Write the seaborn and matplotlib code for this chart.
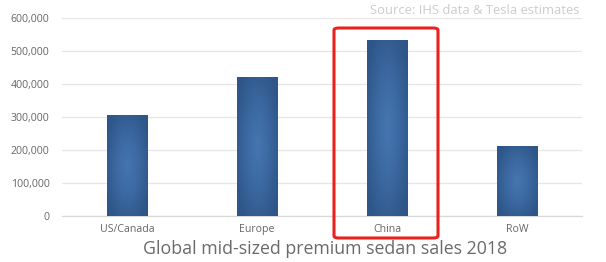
import numpy as np
import pandas as pd
import matplotlib
matplotlib.use("Agg")
import matplotlib.pyplot as plt
import seaborn as sns
from matplotlib.patches import FancyBboxPatch
from matplotlib.colors import LinearSegmentedColormap

regions = ["US/Canada", "Europe", "China", "RoW"]
sales = [306000, 421000, 533000, 212000]
yticks = [0, 100000, 200000, 300000, 400000, 500000, 600000]
title = "Global mid-sized premium sedan sales 2018"
source = "Source: IHS data & Tesla estimates"

sns.set_theme(style="white")
plt.rcParams['font.family'] = ['Open Sans', 'DejaVu Sans']

fig = plt.figure(figsize=(6.06, 2.62), dpi=100)
ax = fig.add_axes([62/606, 46/262, 520/606, 198/262])

df = pd.DataFrame({"region": regions, "sales": sales})
sns.barplot(data=df, x="region", y="sales", color="#35619a", width=0.31, ax=ax, zorder=3)

cmap = LinearSegmentedColormap.from_list("g", ["#4676b0", "#3b68a0", "#2e5688"])
for p in ax.patches:
    x0, y0 = p.get_x(), p.get_y()
    w, h = p.get_width(), p.get_height()
    nx, ny = 60, 200
    xx = np.linspace(-1, 1, nx)
    yy = np.linspace(-1, 1, ny)
    X, Y = np.meshgrid(xx, yy)
    R = np.sqrt((X * 0.85) ** 2 + (Y * 0.8) ** 2)
    R = np.clip(R, 0, 1)
    im = ax.imshow(R, cmap=cmap, vmin=0, vmax=1, extent=[x0, x0 + w, y0, y0 + h],
                   aspect="auto", origin="lower", zorder=4, interpolation="bilinear")
    im.set_clip_path(p)
    p.set_edgecolor("#c8d4e4")
    p.set_linewidth(0.6)

ax.set_xlim(-0.5, 3.5)
ax.set_ylim(0, 600000)
ax.set_yticks(yticks)
ax.set_yticklabels([f"{v:,}" for v in yticks])
ax.yaxis.grid(True, color="#e6e6e6", linewidth=0.9, zorder=0)
ax.set_axisbelow(True)
for s in ["top", "right", "left"]:
    ax.spines[s].set_visible(False)
ax.spines["bottom"].set_color("#d8d8d8")
ax.spines["bottom"].set_linewidth(0.9)
ax.tick_params(axis="both", length=0, labelsize=7.6, colors="#666666", pad=6)
ax.tick_params(axis="y", pad=9)
ax.set_xlabel("")
ax.set_ylabel("")

fig.text(325/606, 1 - 249/262, title, ha="center", va="center", fontsize=12.8, color="#6a6a6a")
fig.text(580/606, 1 - 10/262, source, ha="right", va="center", fontsize=9.4, color="#cccccc")

# red highlight box around China
box = FancyBboxPatch((334/606, 1 - 238/262), 104/606, 210/262,
                     boxstyle="round,pad=0,rounding_size=0.008",
                     transform=fig.transFigure, fill=False, edgecolor="#e8231f",
                     linewidth=2.2, zorder=10)
fig.patches.append(box)

fig.savefig("out.png", dpi=100)
